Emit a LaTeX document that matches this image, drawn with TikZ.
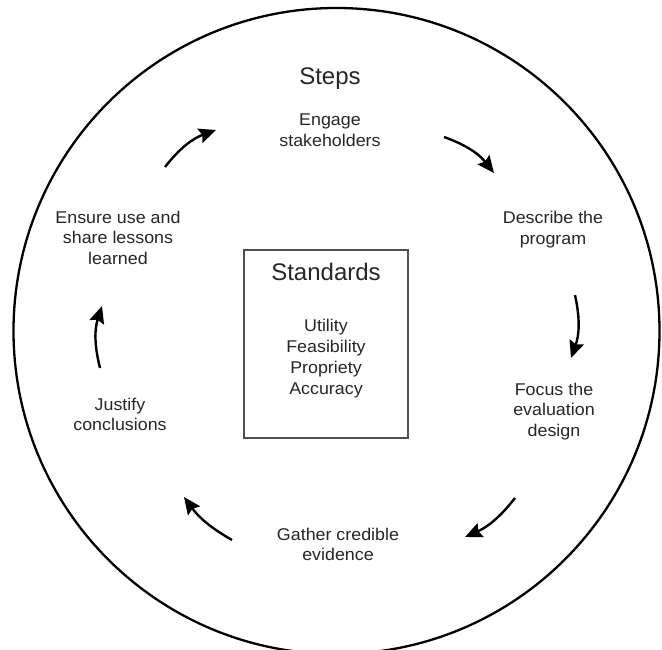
\documentclass[tikz,border=0pt]{standalone}
\usepackage{fontspec}
\setmainfont{Liberation Sans}
\newfontfamily\lblfont{Liberation Sans}[FakeStretch=1.05]
\usetikzlibrary{arrows.meta}
\definecolor{txtgray}{HTML}{262626}
\definecolor{boxgray}{HTML}{505050}
\tikzset{
  lbl/.style={font=\lblfont\fontsize{17}{20.7}\selectfont, align=center, text=txtgray, inner sep=0pt, anchor=base},
  ttl/.style={font=\fontsize{24}{28}\selectfont, text=txtgray, inner sep=0pt, anchor=base},
  flow/.style={line width=2.4pt, -{Stealth[length=17pt,width=15pt,inset=2.5pt]}},
}
\begin{document}
\begin{tikzpicture}[x=1pt,y=-1pt]
\useasboundingbox (0,0) rectangle (662,650);
\clip (0,0) rectangle (662,650);
\fill[white] (0,0) rectangle (662,650);
% outer ring
\node[circle, draw=black, line width=2.3pt, minimum size=646pt, inner sep=0pt] (ring) at (336.5,331) {};
% standards box
\node[draw=boxgray, line width=1.8pt, minimum width=164pt, minimum height=188pt, inner sep=0pt] (stdbox) at (326,344) {};
\node[ttl] (stdtitle) at (326,280) {Standards};
\node[lbl] (stdlist) at (326,394) {Utility\\Feasibility\\Propriety\\Accuracy};
% steps
\node[ttl] (steps) at (330,85) {Steps};
\node[lbl] (engage) at (330,146.7) {Engage\\stakeholders};
\node[lbl] (describe) at (553,244.7) {Describe the\\program};
\node[lbl] (focus) at (554,436.4) {Focus the\\evaluation\\design};
\node[lbl] (gather) at (338,560.7) {Gather credible\\evidence};
\node[lbl] (justify) at (120,430.7) {Justify\\conclusions};
\node[lbl] (ensure) at (118,264.4) {Ensure use and\\share lessons\\learned};
% arrow end points
\coordinate (a1s) at (165,167); \coordinate (a1e) at (216,130);
\coordinate (a2s) at (444,137); \coordinate (a2e) at (494,173);
\coordinate (a3s) at (575,295); \coordinate (a3e) at (571,358);
\coordinate (a4s) at (515,498); \coordinate (a4e) at (465,537);
\coordinate (a5s) at (232,540); \coordinate (a5e) at (184,497);
\coordinate (a6s) at (100,368); \coordinate (a6e) at (102,306);
\draw[flow] (a1s) to[bend left=16] (a1e);
\draw[flow] (a2s) to[bend left=16] (a2e);
\draw[flow] (a3s) to[bend left=16] (a3e);
\draw[flow] (a4s) to[bend left=14] (a4e);
\draw[flow] (a5s) to[bend left=12] (a5e);
\draw[flow] (a6s) to[bend left=16] (a6e);
\end{tikzpicture}
\end{document}
